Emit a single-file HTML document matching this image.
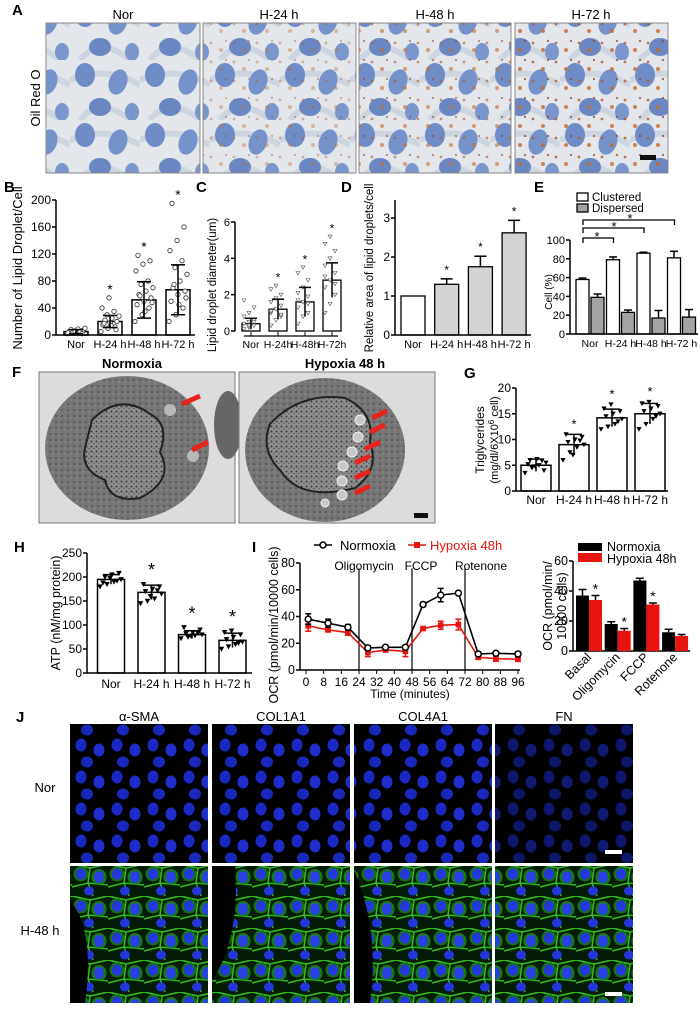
<!DOCTYPE html>
<html><head><meta charset="utf-8">
<style>
html,body{margin:0;padding:0;background:#fff;}
svg{display:block;font-family:"Liberation Sans Narrow","Liberation Sans",Arial,sans-serif;}
</style></head>
<body>
<svg id="fig" width="700" height="1012" viewBox="0 0 700 1012" xmlns="http://www.w3.org/2000/svg">
<defs>
  <pattern id="oro" width="70" height="60" patternUnits="userSpaceOnUse">
    <rect width="70" height="60" fill="#e3e7ec"/>
    <path d="M0 20 Q35 5 70 25 M10 60 Q30 35 60 60" stroke="#ccd5e0" stroke-width="6" fill="none"/>
    <ellipse cx="15" cy="15" rx="10" ry="12" fill="#6f8cc6"/>
    <ellipse cx="48" cy="22" rx="9" ry="13" fill="#7592ca" transform="rotate(20 48 22)"/>
    <ellipse cx="30" cy="47" rx="11" ry="9" fill="#6a87c2"/>
    <ellipse cx="62" cy="52" rx="7" ry="9" fill="#7b96cc"/>
  </pattern>
  <pattern id="drops" width="23" height="19" patternUnits="userSpaceOnUse">
    <circle cx="4" cy="5" r="1.4" fill="#b5552a"/>
    <circle cx="14" cy="12" r="2" fill="#c46a2a"/>
    <circle cx="19" cy="3" r="1.1" fill="#9a3f22"/>
  </pattern>
  <pattern id="nucJ" width="36" height="32" patternUnits="userSpaceOnUse">
    <ellipse cx="9" cy="9" rx="5.5" ry="6.5" fill="#1e2ed8"/>
    <ellipse cx="27" cy="14" rx="5.5" ry="6.5" fill="#2233e0"/>
    <ellipse cx="15" cy="26" rx="6" ry="5.5" fill="#1c2bd0"/>
  </pattern>
  <pattern id="greenJ" width="36" height="32" patternUnits="userSpaceOnUse">
    <rect width="36" height="32" fill="#041c04"/>
    <path d="M0 0 L18 4 L36 0 M18 4 L16 19 L0 23 M16 19 L36 21 M16 19 L21 32" stroke="#2eb824" stroke-width="1.6" fill="none"/>
    <ellipse cx="9" cy="10" rx="7.5" ry="7.5" fill="#178016" opacity="0.85"/>
    <ellipse cx="27" cy="13" rx="7.5" ry="8" fill="#1a8c18" opacity="0.85"/>
    <ellipse cx="9" cy="10" rx="5" ry="5.5" fill="#2437e0"/>
    <ellipse cx="27" cy="13" rx="5" ry="6" fill="#2a40e4"/>
    <ellipse cx="17" cy="27" rx="5" ry="4.5" fill="#2236da"/>
  </pattern>
  <pattern id="emtex" width="6" height="6" patternUnits="userSpaceOnUse">
    <rect width="6" height="6" fill="#767676"/>
    <circle cx="2" cy="2" r="1" fill="#555"/>
    <circle cx="5" cy="4" r="0.8" fill="#909090"/>
  </pattern>
  <pattern id="nuctex" width="5" height="5" patternUnits="userSpaceOnUse">
    <rect width="5" height="5" fill="#8e8e8e"/>
    <circle cx="1.5" cy="1.5" r="1" fill="#3a3a3a"/>
    <circle cx="4" cy="3.5" r="0.7" fill="#555"/>
  </pattern>
</defs>

<!-- Panel A -->
<g>
  <text x="12" y="15" font-size="15" font-weight="bold" font-family="Liberation Sans">A</text>
  <text x="123" y="19" font-size="13" text-anchor="middle">Nor</text>
  <text x="279" y="19" font-size="13" text-anchor="middle">H-24 h</text>
  <text x="435" y="19" font-size="13" text-anchor="middle">H-48 h</text>
  <text x="591" y="19" font-size="13" text-anchor="middle">H-72 h</text>
  <text transform="translate(40 98) rotate(-90)" font-size="13" text-anchor="middle">Oil Red O</text>
  <rect x="46" y="23" width="154" height="150" fill="url(#oro)" stroke="#888"/>
  <rect x="203" y="23" width="153" height="150" fill="url(#oro)" stroke="#888"/>
  <rect x="203" y="23" width="153" height="150" fill="url(#drops)" opacity="0.4"/>
  <rect x="359" y="23" width="152" height="150" fill="url(#oro)" stroke="#888"/>
  <rect x="359" y="23" width="152" height="150" fill="url(#drops)" opacity="0.6"/>
  <rect x="515" y="23" width="153" height="150" fill="url(#oro)" stroke="#888"/>
  <rect x="515" y="23" width="153" height="150" fill="url(#drops)" opacity="0.8"/>
  <rect x="640" y="155" width="16" height="5" fill="#111"/>
</g>

<!-- Panel F -->
<g>
  <text x="12" y="377" font-size="15" font-weight="bold" font-family="Liberation Sans">F</text>
  <rect x="39" y="372" width="196" height="151" fill="#dcdcdc" stroke="#777"/>
  <ellipse cx="127" cy="448" rx="82" ry="72" fill="url(#emtex)"/>
  <ellipse cx="228" cy="425" rx="14" ry="34" fill="#666"/>
  <path d="M92 420 Q120 392 150 414 Q170 424 160 452 Q175 480 140 498 Q110 503 105 480 Q80 470 85 448 Z" fill="url(#nuctex)" stroke="#222" stroke-width="2"/>
  <circle cx="170" cy="410" r="6" fill="#b8b8b8"/>
  <circle cx="193" cy="456" r="6" fill="#b8b8b8"/>
  <path d="M182 404 L200 396 M192 450 L208 442" stroke="#e8231d" stroke-width="5"/>
  <rect x="239" y="372" width="196" height="151" fill="#dcdcdc" stroke="#777"/>
  <ellipse cx="325" cy="450" rx="80" ry="72" fill="url(#emtex)"/>
  <path d="M270 424 Q300 392 345 398 Q375 412 370 442 Q380 470 355 488 Q300 502 280 470 Q260 450 270 424 Z" fill="url(#nuctex)" stroke="#222" stroke-width="2"/>
  <g fill="#c8c8c8" stroke="#eee">
    <circle cx="360" cy="420" r="5"/><circle cx="358" cy="437" r="5"/><circle cx="352" cy="452" r="5"/><circle cx="343" cy="466" r="5"/><circle cx="342" cy="481" r="5"/><circle cx="342" cy="495" r="5"/><circle cx="325" cy="503" r="4"/>
  </g>
  <path d="M372 418 L387 411 M370 432 L385 425 M365 449 L380 442 M355 463 L370 456 M355 478 L370 471 M355 493 L370 486" stroke="#e8231d" stroke-width="5"/>
  <rect x="414" y="513" width="14" height="5" fill="#111"/>
  <rect x="80" y="355" width="100" height="16" fill="#fff"/>
  <rect x="290" y="355" width="110" height="16" fill="#fff"/>
  <text x="132" y="368" font-size="13" font-weight="bold" text-anchor="middle">Normoxia</text>
  <text x="345" y="368" font-size="13" font-weight="bold" text-anchor="middle">Hypoxia 48 h</text>
</g>

<!-- Panel J -->
<g>
  <text x="16" y="722" font-size="15" font-weight="bold" font-family="Liberation Sans">J</text>
  <text x="139" y="721" font-size="13" text-anchor="middle">α-SMA</text>
  <text x="281" y="721" font-size="13" text-anchor="middle">COL1A1</text>
  <text x="423" y="721" font-size="13" text-anchor="middle">COL4A1</text>
  <text x="564" y="721" font-size="13" text-anchor="middle">FN</text>
  <text x="45" y="792" font-size="13" text-anchor="middle">Nor</text>
  <text x="40" y="935" font-size="13" text-anchor="middle">H-48 h</text>
  <g id="jgrid"></g>
</g>

<g id="charts"></g>
</svg>

<script>
const NS = 'http://www.w3.org/2000/svg';
const root = document.getElementById('charts');
function mk(tag, attrs, parent) {
  const e = document.createElementNS(NS, tag);
  for (const k in attrs) e.setAttribute(k, attrs[k]);
  (parent || root).appendChild(e);
  return e;
}
function txt(x, y, s, size, anchor, parent, extra) {
  const t = mk('text', Object.assign({x: x, y: y, 'font-size': size, 'text-anchor': anchor || 'middle'}, extra || {}), parent);
  t.textContent = s;
  return t;
}

/* ---------- DATA ---------- */
const groupLabels = ['Nor', 'H-24 h', 'H-48 h', 'H-72 h'];
const groupLabelsC = ['Nor', 'H-24h', 'H-48h', 'H-72h'];
const bTicks = [0, 40, 80, 120, 160, 200];
const bMeans = [5, 20, 52, 67];
const bErr = [3, 9, 27, 37];
const bPtsNor = [2, 3, 4, 5, 6, 7, 8, 9, 10, 4, 5, 3, 6, 2];
const bPts24 = [5, 10, 12, 15, 18, 20, 22, 25, 28, 30, 35, 40, 55, 8, 17, 14];
const bPts48 = [20, 30, 40, 45, 50, 55, 60, 65, 70, 75, 80, 95, 105, 110, 118, 35, 48, 58];
const bPts72 = [20, 30, 40, 50, 60, 65, 70, 80, 90, 100, 110, 125, 140, 160, 195, 45, 55, 75];
const cTicks = [0, 2, 4, 6];
const cMeans = [0.4, 1.2, 1.6, 2.8];
const cErr = [0.3, 0.55, 0.8, 0.95];
const cPtsNor = [0.1, 0.2, 0.3, 0.4, 0.5, 0.6, 0.8, 1.0, 1.3, 1.7, 0.3, 0.5];
const cPts24 = [0.3, 0.6, 0.8, 1.0, 1.2, 1.4, 1.6, 1.8, 2.0, 2.3, 2.5, 0.9, 1.1];
const cPts48 = [0.4, 0.8, 1.0, 1.3, 1.6, 1.9, 2.1, 2.4, 2.8, 3.2, 3.5, 1.5, 1.7];
const cPts72 = [1.0, 1.5, 2.0, 2.4, 2.8, 3.2, 3.6, 4.0, 4.4, 4.8, 5.2, 2.6, 3.0];
const dTicks = [0, 1, 2, 3];
const dMeans = [1, 1.3, 1.75, 2.62];
const dErr = [0, 0.14, 0.27, 0.32];
const eTicks = [0, 20, 40, 60, 80, 100];
const eClustered = [58, 79, 86, 81];
const eClusteredErr = [1.5, 3, 1, 7];
const eDispersed = [39, 23, 17, 18];
const eDispersedErr = [3.5, 2.5, 8, 8];
const gTicks = [0, 5, 10, 15, 20];
const gMeans = [5, 9, 14.2, 15];
const gErr = [1.2, 2, 1.7, 2];
const gPts = [[3.5, 4.5, 5, 5.5, 6, 6.2, 4, 5.2, 4.8, 5.9], [6, 7.5, 8.5, 9, 9.5, 10, 10.5, 11, 7, 9.8], [12, 12.5, 13, 14, 14.5, 15, 15.5, 16, 16.8, 13.5], [12, 13, 14, 15, 15.5, 16, 16.5, 17, 17.3, 14.5]];
const hTicks = [0, 50, 100, 150, 200, 250];
const hMeans = [195, 168, 80, 68];
const hErr = [10, 15, 8, 15];
const hPts = [[180, 185, 190, 195, 200, 205, 208, 188, 198, 192], [145, 150, 155, 165, 170, 175, 180, 185, 160, 172], [72, 75, 78, 80, 82, 85, 90, 95, 77, 83], [50, 55, 60, 65, 70, 75, 80, 85, 88, 62]];
const iTimes = [1, 10, 19, 28, 36, 45, 53, 61, 69, 78, 86, 96];
const iNormoxia = [38, 35, 32, 16.5, 17, 17, 49, 56, 57.5, 12, 12.5, 12];
const iNormoxiaErr = [4, 3, 2, 1.5, 1, 1.5, 1.5, 5, 1, 1, 1, 1.5];
const iHypoxia = [33, 30, 28, 13, 15, 14, 31, 33.5, 34, 9.5, 8.5, 8];
const iHypoxiaErr = [4, 1.5, 2, 3, 1.5, 4, 1, 3, 4, 1.5, 2, 1.5];
const iXTicks = [0, 8, 16, 24, 32, 40, 48, 56, 64, 72, 80, 88, 96];
const iYTicks = [0, 20, 40, 60, 80];
const iInjections = [24, 48, 72];
const iInjectionLabels = ['Oligomycin', 'FCCP', 'Rotenone'];
const ocrCats = ['Basal', 'Oligomycin', 'FCCP', 'Rotenone'];
const ocrNormoxia = [37, 18, 47, 12.5];
const ocrNormoxiaErr = [4, 1.5, 1.5, 2];
const ocrHypoxia = [34, 13.5, 31, 10];
const ocrHypoxiaErr = [3, 1.5, 1, 1];
const ocrTicks = [0, 20, 40, 60];

/* ---------- helpers ---------- */
function yAxis(g, x, yTop, yBot, ticks, yf, size) {
  const ax = mk('line', {x1: x, y1: yTop, x2: x, y2: yBot, stroke: '#000', 'stroke-width': 1.5}, g);
  
  
  ticks.forEach(v => {
    const y = yf(v);
    mk('line', {x1: x - 4, y1: y, x2: x, y2: y, stroke: '#000', 'stroke-width': 1.5}, g);
    const t = txt(x - 5, y + 4, String(v), size || 12, 'end', g);
    
    
  });
}
function ylabel(g, x, y, s, size) {
  const t = txt(0, 0, s, size || 12, 'middle', g, {transform: 'translate(' + x + ' ' + y + ') rotate(-90)'});
  
  
  return t;
}
function errbar(g, cx, yv, ye, w, color) {
  mk('line', {x1: cx, y1: yv, x2: cx, y2: ye, stroke: color || '#000', 'stroke-width': 1.5}, g);
  mk('line', {x1: cx - w, y1: ye, x2: cx + w, y2: ye, stroke: color || '#000', 'stroke-width': 1.5}, g);
}
function tri(g, cx, cy, s) {
  mk('path', {d: 'M' + (cx - s) + ' ' + (cy - s * 0.8) + ' L' + (cx + s) + ' ' + (cy - s * 0.8) + ' L' + cx + ' ' + (cy + s) + ' Z', fill: '#000'}, g);
}
function letter(s, x, y) {
  const t = txt(x, y, s, 15, 'start', root, {'font-weight': 'bold', 'font-family': 'Liberation Sans'});
  
  
}
function star(g, x, y, size) {
  const t = txt(x, y, '*', size || 14, 'middle', g);
  
  
}

/* ---------- Panel B ---------- */
(function () {
  const g = mk('g', {});
  
  
  letter('B', 4, 192);
  const y = v => 335 - v * (135 / 200);
  const cx = i => 76 + i * 34;
  const pts = [bPtsNor, bPts24, bPts48, bPts72];
  bMeans.forEach((m, i) => {
    const r = mk('rect', {x: cx(i) - 12, y: y(m), width: 24, height: 335 - y(m), fill: '#fff', stroke: '#000', 'stroke-width': 1.5}, g);
    
    
    pts[i].forEach((p, k) => {
      const c = mk('circle', {cx: cx(i) + ((k * 7) % 19) - 9, cy: y(p), r: 2.2, fill: '#fff', stroke: '#333', 'stroke-width': 0.8}, g);
      
      
    });
    errbar(g, cx(i), y(m - bErr[i]), y(m + bErr[i]), 7);
    errbar(g, cx(i), y(m), y(Math.max(0, m - bErr[i])), 7);
    if (i > 0) star(g, cx(i), y(Math.max(...pts[i])) - 4);
    const t = txt(cx(i), 348, groupLabels[i], 11, 'middle', g);
    
    
  });
  yAxis(g, 56, 200, 335, bTicks, y, 12);
  mk('line', {x1: 56, y1: 335, x2: 195, y2: 335, stroke: '#000', 'stroke-width': 1.5}, g);
  ylabel(g, 22, 268, 'Number of Lipid Droplet/Cell', 13);
})();

/* ---------- Panel C ---------- */
(function () {
  const g = mk('g', {});
  
  
  letter('C', 196, 192);
  const y = v => 331 - v * (109 / 6);
  const cx = i => 251 + i * 27;
  const pts = [cPtsNor, cPts24, cPts48, cPts72];
  cMeans.forEach((m, i) => {
    const r = mk('rect', {x: cx(i) - 9, y: y(m), width: 18, height: 331 - y(m), fill: '#fff', stroke: '#000', 'stroke-width': 1.3}, g);
    
    
    pts[i].forEach((p, k) => {
      const c = mk('path', {d: 'M' + (cx(i) + ((k * 5) % 15) - 7 - 2) + ' ' + (y(p) - 1.5) + ' l4 0 l-2 3.5 z', fill: '#fff', stroke: '#555', 'stroke-width': 0.6}, g);
      
      
    });
    errbar(g, cx(i), y(m - cErr[i]), y(m + cErr[i]), 6);
    if (i > 0) star(g, cx(i), y(Math.max(...pts[i])) - 4, 12);
    mk('line', {x1: cx(i), y1: 336, x2: cx(i), y2: 332, stroke: '#000'}, g);
    const t = txt(cx(i), 348, groupLabelsC[i], 10.5, 'middle', g);
    
    
  });
  yAxis(g, 235, 222, 331, cTicks, y, 11);
  mk('line', {x1: 244, y1: 336, x2: 338, y2: 336, stroke: '#000', 'stroke-width': 1.3}, g);
  ylabel(g, 216, 285, 'Lipid droplet diameter(um)', 11.5);
})();

/* ---------- Panel D ---------- */
(function () {
  const g = mk('g', {});
  
  
  letter('D', 341, 192);
  const y = v => 335 - v * 39;
  const cx = i => 413 + i * 33.7;
  dMeans.forEach((m, i) => {
    const r = mk('rect', {x: cx(i) - 12, y: y(m), width: 24, height: 335 - y(m), fill: i === 0 ? '#fff' : '#d4d4d4', stroke: '#000', 'stroke-width': 1.3}, g);
    
    
    if (dErr[i] > 0) errbar(g, cx(i), y(m), y(m + dErr[i]), 6);
    if (i > 0) star(g, cx(i), y(m + dErr[i]) - 5, 12);
    const t = txt(cx(i), 348, groupLabels[i], 11, 'middle', g);
    
    
  });
  yAxis(g, 395, 200, 335, dTicks, y, 12);
  mk('line', {x1: 395, y1: 335, x2: 531, y2: 335, stroke: '#000', 'stroke-width': 1.5}, g);
  ylabel(g, 373, 268, 'Relative area of lipid droplets/cell', 11.5);
})();

/* ---------- Panel E ---------- */
(function () {
  const g = mk('g', {});
  
  
  letter('E', 534, 192);
  const y = v => 334 - v * 0.94;
  const cx = i => 590 + i * 30.5;
  eClustered.forEach((m, i) => {
    const r = mk('rect', {x: cx(i) - 14, y: y(m), width: 13, height: 334 - y(m), fill: '#fff', stroke: '#000', 'stroke-width': 1.3}, g);
    
    
    errbar(g, cx(i) - 7.5, y(m), y(m + eClusteredErr[i]), 4);
    const d = eDispersed[i];
    const r2 = mk('rect', {x: cx(i) + 1, y: y(d), width: 13, height: 334 - y(d), fill: '#a3a3a3', stroke: '#000', 'stroke-width': 1.3}, g);
    
    
    errbar(g, cx(i) + 7.5, y(d), y(d + eDispersedErr[i]), 4);
    const t = txt(cx(i), 347, groupLabels[i], 10.5, 'middle', g);
    
    
  });
  yAxis(g, 570, 240, 334, eTicks, y, 11);
  mk('line', {x1: 570, y1: 334, x2: 698, y2: 334, stroke: '#000', 'stroke-width': 1.5}, g);
  ylabel(g, 552, 292, 'Cell (%)', 10);
  [[220, 3, 630], [228, 2, 614], [238, 1, 597]].forEach(b => {
    const p = mk('path', {d: 'M' + (cx(0) - 7) + ' ' + (b[0] + 5) + ' V' + b[0] + ' H' + (cx(b[1]) - 7) + ' V' + (b[0] + 5), fill: 'none', stroke: '#000', 'stroke-width': 1.3}, g);
    
    
    star(g, b[2], b[0] + 3, 13);
  });
  const l1 = mk('rect', {x: 577, y: 193, width: 11, height: 8, fill: '#fff', stroke: '#000', 'stroke-width': 1.3}, g);
  
  
  txt(592, 201, 'Clustered', 11.5, 'start', g);
  const l2 = mk('rect', {x: 577, y: 204, width: 11, height: 8, fill: '#a3a3a3', stroke: '#000', 'stroke-width': 1.3}, g);
  
  
  txt(592, 212, 'Dispersed', 11.5, 'start', g);
})();

/* ---------- Panel G ---------- */
(function () {
  const g = mk('g', {});
  
  
  letter('G', 464, 378);
  const y = v => 491 - v * 5.15;
  const cx = i => 536 + i * 38;
  gMeans.forEach((m, i) => {
    const r = mk('rect', {x: cx(i) - 15, y: y(m), width: 30, height: 491 - y(m), fill: '#fff', stroke: '#000', 'stroke-width': 1.5}, g);
    
    
    gPts[i].forEach((p, k) => tri(g, cx(i) + ((k * 7) % 23) - 11, y(p), 2.6));
    errbar(g, cx(i), y(m - gErr[i]), y(m + gErr[i]), 8);
    if (i > 0) star(g, cx(i), y(Math.max(...gPts[i])) - 6, 13);
    const t = txt(cx(i), 504, groupLabels[i], 12, 'middle', g);
    
    
  });
  yAxis(g, 516, 388, 491, gTicks, y, 12);
  mk('line', {x1: 516, y1: 491, x2: 668, y2: 491, stroke: '#000', 'stroke-width': 1.5}, g);
  ylabel(g, 484, 440, 'Triglycerides', 12);
  const t2 = mk('text', {transform: 'translate(498 440) rotate(-90)', 'font-size': 11, 'text-anchor': 'middle'}, g);
  t2.innerHTML = '(mg/dl/6X10<tspan dy="-4" font-size="8">6</tspan><tspan dy="4"> cell)</tspan>';
  
  
})();

/* ---------- Panel H ---------- */
(function () {
  const g = mk('g', {});
  
  
  letter('H', 14, 552);
  const y = v => 673 - v * 0.48;
  const cx = i => 111 + i * 40.5;
  hMeans.forEach((m, i) => {
    const r = mk('rect', {x: cx(i) - 13.5, y: y(m), width: 27, height: 673 - y(m), fill: '#fff', stroke: '#000', 'stroke-width': 1.5}, g);
    
    
    hPts[i].forEach((p, k) => tri(g, cx(i) + ((k * 7) % 23) - 11, y(p), 2.8));
    errbar(g, cx(i), y(m - hErr[i]), y(m + hErr[i]), 8);
    if (i > 0) star(g, cx(i), y(Math.max(...hPts[i])) - 8, 18);
    const t = txt(cx(i), 688, groupLabels[i], 12, 'middle', g);
    
    
  });
  yAxis(g, 87, 553, 673, hTicks, y, 12);
  mk('line', {x1: 87, y1: 673, x2: 252, y2: 673, stroke: '#000', 'stroke-width': 1.5}, g);
  ylabel(g, 60, 613, 'ATP (nM/mg protein)', 12.5);
})();

/* ---------- Panel I (line) ---------- */
(function () {
  const g = mk('g', {});
  
  
  letter('I', 252, 552);
  const x = t => 306 + t * (212 / 96);
  const y = v => 670 - v * (107 / 80);
  yAxis(g, 300, 563, 670, iYTicks, y, 12.5);
  mk('line', {x1: 300, y1: 670, x2: 520, y2: 670, stroke: '#000', 'stroke-width': 1.5}, g);
  iXTicks.forEach(t => {
    mk('line', {x1: x(t), y1: 670, x2: x(t), y2: 674, stroke: '#000'}, g);
    const l = txt(x(t), 686, String(t), 12, 'middle', g);
    
    
  });
  iInjections.forEach((t, k) => {
    const l = mk('line', {x1: x(t), y1: y(76), x2: x(t), y2: 670, stroke: '#000', 'stroke-width': 1.2}, g);
    
    
  });
  txt(364, 570, iInjectionLabels[0], 12, 'middle', g);
  txt(421, 570, iInjectionLabels[1], 12, 'middle', g);
  txt(481, 570, iInjectionLabels[2], 12, 'middle', g);
  function series(vals, errs, color, name, marker) {
    const d = vals.map((v, i) => (i ? 'L' : 'M') + x(iTimes[i]) + ' ' + y(v)).join(' ');
    const p = mk('path', {d: d, fill: 'none', stroke: color, 'stroke-width': 1.6}, g);
    
    
    vals.forEach((v, i) => {
      errbar(g, x(iTimes[i]), y(v - errs[i]), y(v + errs[i]), 3, color);
      mk('line', {x1: x(iTimes[i]) - 3, y1: y(v - errs[i]), x2: x(iTimes[i]) + 3, y2: y(v - errs[i]), stroke: color, 'stroke-width': 1.5}, g);
      let m;
      if (marker === 'circle') m = mk('circle', {cx: x(iTimes[i]), cy: y(v), r: 3, fill: '#fff', stroke: color, 'stroke-width': 1.5}, g);
      else m = mk('rect', {x: x(iTimes[i]) - 2.8, y: y(v) - 2.8, width: 5.6, height: 5.6, fill: color}, g);
      
      
    });
  }
  series(iHypoxia, iHypoxiaErr, '#e8140f', 'hypoxia', 'square');
  series(iNormoxia, iNormoxiaErr, '#000', 'normoxia', 'circle');
  ylabel(g, 278, 625, 'OCR (pmol/min/10000 cells)', 12.5);
  const xt = txt(410, 698, 'Time (minutes)', 12, 'middle', g);
  
  
  mk('line', {x1: 314, y1: 545, x2: 332, y2: 545, stroke: '#000', 'stroke-width': 1.6}, g);
  const lc = mk('circle', {cx: 323, cy: 545, r: 3, fill: '#fff', stroke: '#000', 'stroke-width': 1.5}, g);
  
  
  txt(340, 550, 'Normoxia', 13, 'start', g);
  mk('line', {x1: 408, y1: 545, x2: 426, y2: 545, stroke: '#e8140f', 'stroke-width': 1.6}, g);
  const ls = mk('rect', {x: 414, y: 542, width: 6, height: 6, fill: '#e8140f'}, g);
  
  
  txt(430, 550, 'Hypoxia 48h', 13, 'start', g, {fill: '#e8140f'});
})();

/* ---------- Panel I (bars) ---------- */
(function () {
  const g = mk('g', {});
  
  
  const y = v => 651 - v * 1.5;
  const gx = i => 576 + i * 28.7;
  yAxis(g, 573, 561, 651, ocrTicks, y, 12.5);
  mk('line', {x1: 573, y1: 651, x2: 690, y2: 651, stroke: '#000', 'stroke-width': 1.5}, g);
  ocrCats.forEach((c, i) => {
    const b1 = mk('rect', {x: gx(i), y: y(ocrNormoxia[i]), width: 13, height: 651 - y(ocrNormoxia[i]), fill: '#000'}, g);
    
    
    errbar(g, gx(i) + 6.5, y(ocrNormoxia[i]), y(ocrNormoxia[i] + ocrNormoxiaErr[i]), 4);
    const b2 = mk('rect', {x: gx(i) + 13, y: y(ocrHypoxia[i]), width: 13, height: 651 - y(ocrHypoxia[i]), fill: '#e8140f'}, g);
    
    
    errbar(g, gx(i) + 19.5, y(ocrHypoxia[i]), y(ocrHypoxia[i] + ocrHypoxiaErr[i]), 4);
    if (i < 3) star(g, gx(i) + 19.5, y(ocrHypoxia[i] + ocrHypoxiaErr[i]) - 2, 14);
    const t = txt(0, 0, c, 12.5, 'end', g, {transform: 'translate(' + (gx(i) + 16) + ' 658) rotate(-45)'});
    
    
  });
  ylabel(g, 552, 606, 'OCR (pmol/min/', 12.5);
  ylabel(g, 566, 606, '10000 cells)', 12.5);
  const lb = mk('rect', {x: 578, y: 543, width: 24, height: 8, fill: '#000'}, g);
  
  
  txt(607, 551, 'Normoxia', 12.5, 'start', g);
  const lr = mk('rect', {x: 578, y: 553, width: 24, height: 9, fill: '#e8140f'}, g);
  
  
  txt(607, 563, 'Hypoxia 48h', 12.5, 'start', g);
})();

/* ---------- Panel J images ---------- */
(function () {
  const g = document.getElementById('jgrid');
  const cols = [70, 212, 354, 495];
  const names = ['asma', 'col1a1', 'col4a1', 'fn'];
  cols.forEach((x, c) => {
    const r1 = mk('rect', {x: x, y: 724, width: 138, height: 139, fill: '#000'}, g);
    
    
    mk('rect', {x: x, y: 724, width: 138, height: 139, fill: 'url(#nucJ)', opacity: c === 3 ? 0.5 : 0.9}, g);
    const r2 = mk('rect', {x: x, y: 866, width: 138, height: 137, fill: 'url(#greenJ)'}, g);
    
    
  });
  mk('path', {d: 'M70 900 Q95 930 85 1003 L70 1003 Z M212 980 Q240 940 235 866 L212 866 Z M354 870 Q380 930 370 1003 L354 1003 Z', fill: '#000'}, g);
  mk('rect', {x: 605, y: 850, width: 17, height: 4, fill: '#fff'}, g);
  mk('rect', {x: 605, y: 992, width: 17, height: 4, fill: '#fff'}, g);
})();
</script>
</body></html>
